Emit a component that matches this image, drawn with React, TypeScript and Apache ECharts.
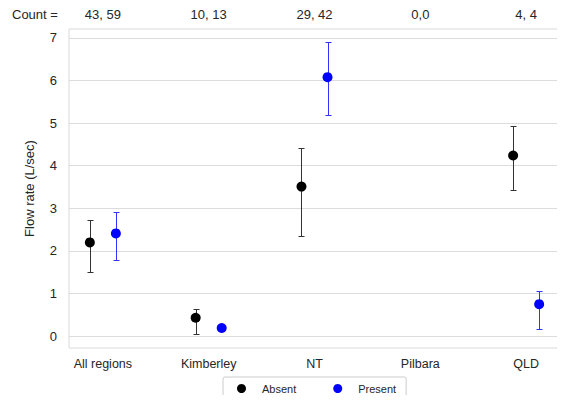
import React, { useEffect, useRef } from "react";
import * as echarts from "echarts";

const categories = ["All regions", "Kimberley", "NT", "Pilbara", "QLD"];
const counts = ["43, 59", "10, 13", "29, 42", "0,0", "4, 4"];
const absentMean = [2.2, 0.43, 3.51, null, 4.24];
const absentLow = [1.5, 0.05, 2.34, null, 3.44];
const absentHigh = [2.72, 0.64, 4.42, null, 4.93];
const presentMean = [2.41, 0.19, 6.08, null, 0.75];
const presentLow = [1.79, 0.14, 5.18, null, 0.16];
const presentHigh = [2.92, 0.24, 6.91, null, 1.06];
const yTicks = [0, 1, 2, 3, 4, 5, 6, 7];

const DODGE = 0.123;
const FONT = "Liberation Sans, Arial, sans-serif";

function points(mean: (number | null)[], off: number) {
  return mean
    .map((m, i) => (m == null ? null : [i + off, m]))
    .filter((d) => d != null);
}
function bars(lo: (number | null)[], hi: (number | null)[], off: number) {
  return lo
    .map((l, i) => (l == null || hi[i] == null ? null : [i + off, l, hi[i]]))
    .filter((d) => d != null);
}

function errRender(color: string) {
  return (params: any, api: any) => {
    const x = api.value(0);
    const p1 = api.coord([x, api.value(1)]);
    const p2 = api.coord([x, api.value(2)]);
    const cx = Math.round(p1[0]) + 0.5;
    const y1 = Math.round(p1[1]) + 0.5;
    const y2 = Math.round(p2[1]) + 0.5;
    const cap = 3;
    const style = { stroke: color, lineWidth: 1, fill: null };
    return {
      type: "group",
      children: [
        { type: "line", shape: { x1: cx, y1, x2: cx, y2 }, style },
        { type: "line", shape: { x1: cx - cap, y1, x2: cx + cap, y2: y1 }, style },
        { type: "line", shape: { x1: cx - cap, y1: y2, x2: cx + cap, y2 }, style },
      ],
    };
  };
}

export default function App() {
  const ref = useRef<HTMLDivElement>(null);
  useEffect(() => {
    const chart = echarts.init(ref.current!, null, { renderer: "svg" });
    const catIdx = categories.map((_, i) => i);
    chart.setOption({
      animation: false,
      textStyle: { fontFamily: FONT },
      grid: {
        left: 69,
        right: 5,
        top: 29,
        bottom: 55,
        show: true,
        borderColor: "#d9d9d9",
        borderWidth: 1,
      },
      graphic: [
        {
          type: "text",
          left: 12,
          top: 8,
          style: { text: "Count =", fontSize: 13, fill: "#262626", fontFamily: FONT },
        },
      ],
      legend: {
        left: 223,
        top: 377,
        orient: "horizontal",
        data: ["Absent", "Present"],
        icon: "circle",
        itemWidth: 9,
        itemHeight: 9,
        itemGap: 37,
        padding: [6, 10, 6, 14],
        borderColor: "#cccccc",
        borderWidth: 1,
        borderRadius: 2,
        textStyle: { fontSize: 11, color: "#262626", fontFamily: FONT, padding: [0, 0, 0, 11] },
      },
      xAxis: [
        {
          type: "value",
          min: -0.32,
          max: 4.32,
          position: "bottom",
          axisLine: { show: false },
          axisTick: { show: false, customValues: catIdx },
          splitLine: { show: false },
          axisLabel: {
            customValues: catIdx,
            formatter: (v: number) => categories[Math.round(v)],
            fontSize: 12.5,
            color: "#262626",
            margin: 9,
          },
        },
        {
          type: "value",
          min: -0.32,
          max: 4.32,
          position: "top",
          axisLine: { show: false },
          axisTick: { show: false, customValues: catIdx },
          splitLine: { show: false },
          axisLabel: {
            customValues: catIdx,
            formatter: (v: number) => counts[Math.round(v)],
            fontSize: 13,
            color: "#262626",
            margin: 8,
          },
        },
      ],
      yAxis: {
        type: "value",
        min: -0.28,
        max: 7.21,
        name: "Flow rate (L/sec)",
        nameLocation: "middle",
        nameGap: 33,
        nameRotate: 90,
        nameTextStyle: { fontSize: 13, color: "#262626", fontFamily: FONT },
        axisLine: { show: false },
        axisTick: { show: false, customValues: yTicks },
        axisLabel: {
          customValues: yTicks,
          fontSize: 13,
          color: "#262626",
          margin: 12,
        },
        splitLine: { show: true, lineStyle: { color: "#dcdcdc", width: 1 } },
      },
      series: [
        {
          type: "custom",
          name: "AbsentErr",
          renderItem: errRender("#333333"),
          itemStyle: { color: "#333333" },
          data: bars(absentLow, absentHigh, -DODGE),
          encode: { x: 0, y: [1, 2] },
          z: 2,
        },
        {
          type: "custom",
          name: "PresentErr",
          renderItem: errRender("#3333ff"),
          itemStyle: { color: "#3333ff" },
          data: bars(presentLow, presentHigh, DODGE),
          encode: { x: 0, y: [1, 2] },
          z: 2,
        },
        {
          type: "scatter",
          name: "Absent",
          data: points(absentMean, -DODGE),
          symbol: "circle",
          symbolSize: 10,
          itemStyle: { color: "#000000", opacity: 1 },
          z: 3,
        },
        {
          type: "scatter",
          name: "Present",
          data: points(presentMean, DODGE),
          symbol: "circle",
          symbolSize: 10,
          itemStyle: { color: "#0000ff", opacity: 1 },
          z: 3,
        },
      ],
    });
    return () => chart.dispose();
  }, []);
  return <div ref={ref} style={{ width: 565, height: 403, margin: -8 }} />;
}
